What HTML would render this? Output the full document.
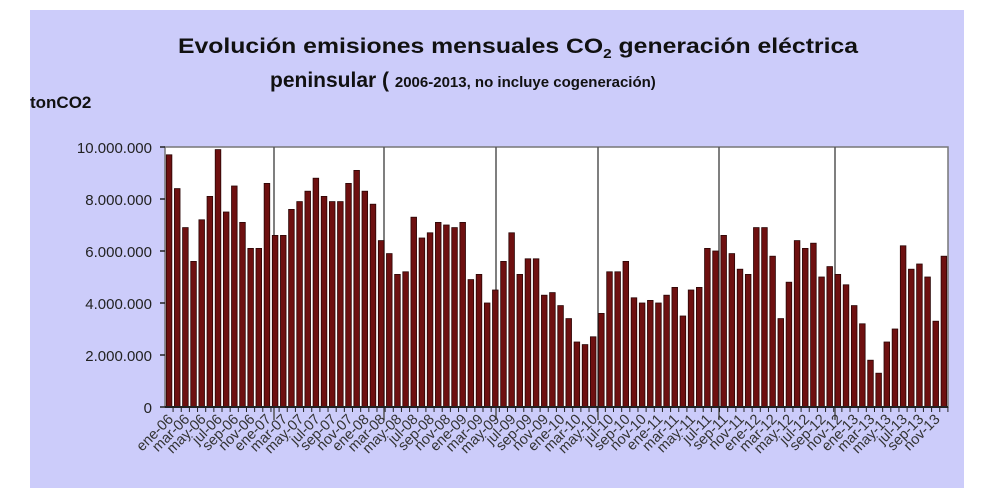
<!DOCTYPE html>
<html><head><meta charset="utf-8"><style>
html,body{margin:0;padding:0;background:#fff;width:1000px;height:496px;overflow:hidden}
svg{display:block;font-family:"Liberation Sans",Arial,sans-serif}
</style></head><body>
<svg width="1000" height="496" viewBox="0 0 1000 496" xmlns="http://www.w3.org/2000/svg">
<rect x="30" y="10" width="934" height="478" fill="#ccccfa"/>
<text x="518" y="53" text-anchor="middle" font-weight="bold" font-size="21" fill="#111" textLength="680" lengthAdjust="spacingAndGlyphs">Evolución emisiones mensuales CO<tspan font-size="13" dy="5">2</tspan><tspan dy="-5"> generación eléctrica</tspan></text>
<text x="270" y="87" font-weight="bold" font-size="21" fill="#111">peninsular ( <tspan font-size="15">2006-2013, no incluye cogeneración)</tspan></text>
<text x="30" y="108" font-weight="bold" font-size="17" fill="#111">tonCO2</text>
<rect x="165" y="147" width="783" height="260" fill="#fff" stroke="#777" stroke-width="1.5"/>
<g stroke="#555" stroke-width="1.5">
<line x1="274" y1="147" x2="274" y2="420"/><line x1="384" y1="147" x2="384" y2="420"/><line x1="496" y1="147" x2="496" y2="420"/><line x1="598" y1="147" x2="598" y2="420"/><line x1="719" y1="147" x2="719" y2="420"/><line x1="835" y1="147" x2="835" y2="420"/>
</g>
<g font-size="15" fill="#222" text-anchor="end">
<text x="152" y="153">10.000.000</text><text x="152" y="205">8.000.000</text><text x="152" y="257">6.000.000</text><text x="152" y="309">4.000.000</text><text x="152" y="361">2.000.000</text><text x="152" y="413">0</text>
</g>
<g stroke="#222" stroke-width="1.5"><line x1="160" y1="147" x2="165" y2="147"/><line x1="160" y1="199" x2="165" y2="199"/><line x1="160" y1="251" x2="165" y2="251"/><line x1="160" y1="303" x2="165" y2="303"/><line x1="160" y1="355" x2="165" y2="355"/><line x1="160" y1="407" x2="165" y2="407"/></g>
<g id="bars"></g>
<line x1="165" y1="407" x2="948" y2="407" stroke="#222" stroke-width="2"/>
<g id="lbl" font-size="14.5" fill="#333" text-anchor="end"></g>
<script>
var v=[9.7,8.4,6.9,5.6,7.2,8.1,9.9,7.5,8.5,7.1,6.1,6.1,
8.6,6.6,6.6,7.6,7.9,8.3,8.8,8.1,7.9,7.9,8.6,9.1,
8.3,7.8,6.4,5.9,5.1,5.2,7.3,6.5,6.7,7.1,7.0,6.9,
7.1,4.9,5.1,4.0,4.5,5.6,6.7,5.1,5.7,5.7,4.3,4.4,
3.9,3.4,2.5,2.4,2.7,3.6,5.2,5.2,5.6,4.2,4.0,4.1,
4.0,4.3,4.6,3.5,4.5,4.6,6.1,6.0,6.6,5.9,5.3,5.1,
6.9,6.9,5.8,3.4,4.8,6.4,6.1,6.3,5.0,5.4,5.1,4.7,
3.9,3.2,1.8,1.3,2.5,3.0,6.2,5.3,5.5,5.0,3.3,5.8];
var ns="http://www.w3.org/2000/svg",g=document.getElementById("bars"),l=document.getElementById("lbl");
var m=["ene","mar","may","jul","sep","nov"];
for(var i=0;i<96;i++){var cx=165+8.156*(i+0.5);var h=v[i]*26;
var r=document.createElementNS(ns,"rect");r.setAttribute("x",cx-2.8);r.setAttribute("y",407-h);r.setAttribute("width",5.6);r.setAttribute("height",h);r.setAttribute("fill","#6e1010");r.setAttribute("stroke","#2a0505");r.setAttribute("stroke-width","0.8");g.appendChild(r);
var t=document.createElementNS(ns,"line");t.setAttribute("x1",cx+4);t.setAttribute("x2",cx+4);t.setAttribute("y1",407);t.setAttribute("y2",412);t.setAttribute("stroke","#222");g.appendChild(t);
if(i%2==0){var y=6+Math.floor(i/12);var s=m[(i%12)/2]+"-"+(y<10?"0"+y:y);
var tx=document.createElementNS(ns,"text");tx.setAttribute("transform","translate("+(cx+5)+",420) rotate(-45)");tx.textContent=s;l.appendChild(tx);}}
</script>
</svg>
</body></html>
